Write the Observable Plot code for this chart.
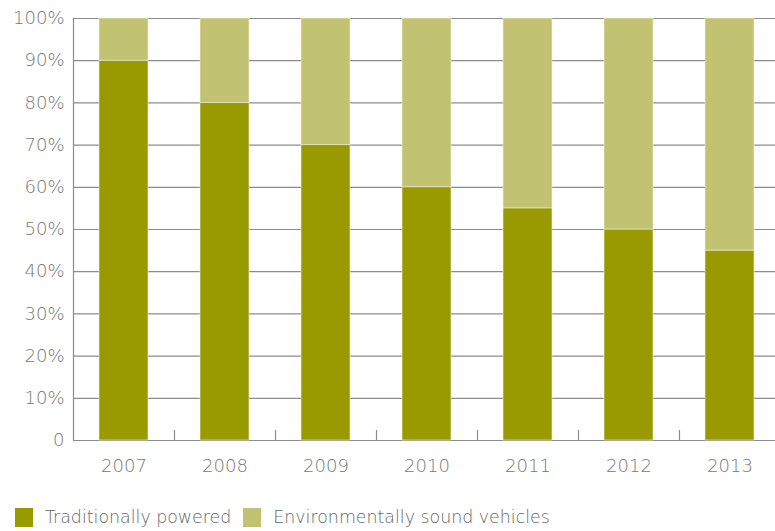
<!DOCTYPE html>
<html>
<head>
<meta charset="utf-8">
<script src="https://cdn.jsdelivr.net/npm/d3@7"></script>
<script src="https://cdn.jsdelivr.net/npm/@observablehq/plot@0.6"></script>
<style>
  body { margin: 0; background: #fff; font-family: "DejaVu Sans", sans-serif; }
  #legend { display: flex; align-items: center; margin: 17px 0 0 15px; font-size: 17.4px; font-weight: 200; color: #666; }
  .sw { width: 18px; height: 19px; display: inline-block; margin-right: 12px; }
  .item { display: flex; align-items: center; margin-right: 12px; }
</style>
</head>
<body>
<div id="chart"></div>
<div id="legend"></div>
<script>
const years = ["2007", "2008", "2009", "2010", "2011", "2012", "2013"];
const traditional = [90, 80, 70, 60, 55, 50, 45];
const environmental = [10, 20, 30, 40, 45, 50, 55];
const seriesNames = ["Traditionally powered", "Environmentally sound vehicles"];
const seriesColors = ["#989a00", "#c2c372"];
const yTicks = [0, 10, 20, 30, 40, 50, 60, 70, 80, 90, 100];

const data = [];
years.forEach((y, i) => {
  data.push({year: y, series: seriesNames[0], value: traditional[i]});
  data.push({year: y, series: seriesNames[1], value: environmental[i]});
});

const plot = Plot.plot({
  width: 775,
  height: 490,
  marginLeft: 73,
  marginRight: 0,
  marginTop: 18,
  marginBottom: 50,
  style: {fontFamily: "DejaVu Sans, sans-serif", fontSize: "18px", fontWeight: 200, color: "#777", background: "#fff"},
  x: {domain: years, range: [73, 780], paddingInner: 0.515, paddingOuter: 0.257, label: null},
  y: {domain: [0, 100], label: null},
  color: {domain: seriesNames, range: seriesColors},
  marks: [
    Plot.ruleY(yTicks, {stroke: "#8c8c8c", strokeWidth: 1.2}),
    Plot.barY(data, {x: "year", y: "value", fill: "series", stroke: "#eef0d0", strokeWidth: 0.6, order: seriesNames}),
    Plot.ruleX(years.slice(0, 1), {dx: -50.5, stroke: "#8c8c8c", strokeWidth: 1.2}),
    Plot.ruleX(years.slice(1), {dx: -50.5, insetTop: 412, stroke: "#8c8c8c", strokeWidth: 1.2}),
    Plot.axisY(yTicks, {tickSize: 0, tickPadding: 9, tickFormat: d => d === 0 ? "0" : d + "%", fill: "#777"}),
    Plot.axisX({tickSize: 0, tickPadding: 19, fill: "#777"})
  ]
});
document.getElementById("chart").appendChild(plot);

const legend = document.getElementById("legend");
seriesNames.forEach((name, i) => {
  const item = document.createElement("span");
  item.className = "item";
  const sw = document.createElement("span");
  sw.className = "sw";
  sw.style.background = seriesColors[i];
  item.appendChild(sw);
  item.appendChild(document.createTextNode(name));
  legend.appendChild(item);
});
</script>
</body>
</html>
